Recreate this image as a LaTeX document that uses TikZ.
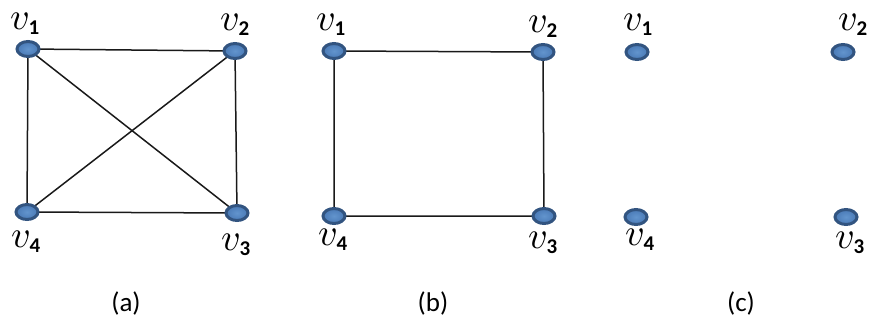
\documentclass[tikz,border=0pt]{standalone}
\usepackage{fontspec}
\setmainfont{Carlito}
\DeclareFontShape{OML}{cmm}{m}{it}{<->cmmi10}{}
\DeclareFontShape{OT1}{cmr}{m}{n}{<->cmr10}{}
\DeclareFontShape{OT1}{cmr}{bx}{n}{<->cmbx10}{}
\usetikzlibrary{shapes.geometric}
\pgfdeclarelayer{bg}
\pgfsetlayers{bg,main}
\definecolor{dotfill}{RGB}{74,122,182}
\definecolor{dotin}{RGB}{98,148,205}
\definecolor{dotedge}{RGB}{50,84,128}
\newcommand{\vsub}[1]{$v_{\mbox{\fontsize{21}{21}\selectfont$\mathbf{#1}$}}$}
\tikzset{
  vert/.style={ellipse, minimum width=22pt, minimum height=15pt, inner sep=0pt,
    draw=dotedge, line width=3pt, inner color=dotin, outer color=dotfill},
  vlab/.style={anchor=base west, inner sep=0pt, font=\fontsize{38}{38}\selectfont},
  edge/.style={line width=1.5pt, black!90},
  captext/.style={font=\fontsize{27}{27}\selectfont}
}
\begin{document}
\begin{tikzpicture}[x=1pt,y=-1pt]
\useasboundingbox (0,0) rectangle (869,324);
% (a)
\node[vert] (a1) at (28,49) {};
\node[vert] (a2) at (235,51) {};
\node[vert] (a3) at (237,213) {};
\node[vert] (a4) at (27,212) {};
% (b)
\node[vert] (b1) at (334,51) {};
\node[vert] (b2) at (543,52) {};
\node[vert] (b3) at (544,216) {};
\node[vert] (b4) at (334,216) {};
% (c)
\node[vert] (c1) at (637,52) {};
\node[vert] (c2) at (843,52) {};
\node[vert] (c3) at (846,217) {};
\node[vert] (c4) at (636,217) {};
\begin{pgfonlayer}{bg}
\draw[edge] (a1.center) -- (a2.center) -- (a3.center) -- (a4.center) -- cycle;
\draw[edge] (a1.center) -- (a3.center);
\draw[edge] (a2.center) -- (a4.center);
\draw[edge] (b1.center) -- (b2.center) -- (b3.center) -- (b4.center) -- cycle;
\end{pgfonlayer}
% labels
\node[vlab] (la1) at (10,29) {\vsub{1}};
\node[vlab] (la2) at (220,30) {\vsub{2}};
\node[vlab] (la4) at (11,247) {\vsub{4}};
\node[vlab] (la3) at (221,250) {\vsub{3}};
\node[vlab] (lb1) at (316,30) {\vsub{1}};
\node[vlab] (lb2) at (528,32) {\vsub{2}};
\node[vlab] (lb4) at (318,245) {\vsub{4}};
\node[vlab] (lb3) at (528,248) {\vsub{3}};
\node[vlab] (lc1) at (623,30) {\vsub{1}};
\node[vlab] (lc2) at (838,30) {\vsub{2}};
\node[vlab] (lc4) at (625,245) {\vsub{4}};
\node[vlab] (lc3) at (835,248) {\vsub{3}};
% captions
\node[captext] (capa) at (126,303) {(a)};
\node[captext] (capb) at (433,303) {(b)};
\node[captext] (capc) at (741,303) {(c)};
\end{tikzpicture}
\end{document}
